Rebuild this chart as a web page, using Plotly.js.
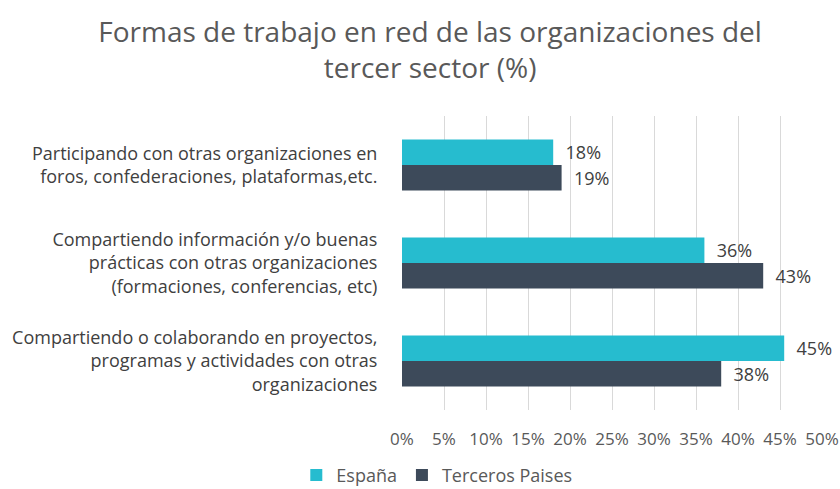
<!DOCTYPE html>
<html><head><meta charset="utf-8">
<script src="https://cdn.plot.ly/plotly-3.0.1.min.js"></script>
<style>body{margin:0;padding:0;background:#fff}#chart{width:840px;height:489px}</style>
</head><body><div id="chart"></div>
<script>
var categories = [
  "Participando con otras organizaciones en<br>foros, confederaciones, plataformas,etc.",
  "Compartiendo información y/o buenas<br>prácticas con otras organizaciones<br>(formaciones, conferencias, etc)",
  "Compartiendo o colaborando en proyectos,<br>programas y actividades con otras<br>organizaciones"
];
var espana = [18, 36, 45.5];
var terceros = [19, 43, 38];
var espanaLabels = ["18%", "36%", "45%"];
var tercerosLabels = ["19%", "43%", "38%"];
var tickVals = [0,5,10,15,20,25,30,35,40,45,50];
var tickText = ["0%","5%","10%","15%","20%","25%","30%","35%","40%","45%","50%"];

var font = "'Open Sans', Lato, sans-serif";
var traces = [
  {type:'bar', orientation:'h', name:'España', y:categories, x:espana,
   marker:{color:'#26BCCF'}, text:espanaLabels, texttemplate:'  %{text}', textposition:'outside',
   textfont:{size:18,color:'#404040',family:font}, cliponaxis:false, hoverinfo:'none'},
  {type:'bar', orientation:'h', name:'Terceros Paises', y:categories, x:terceros,
   marker:{color:'#3D4A5A'}, text:tercerosLabels, texttemplate:'  %{text}', textposition:'outside',
   textfont:{size:18,color:'#404040',family:font}, cliponaxis:false, hoverinfo:'none'}
];
var layout = {
  width:840, height:489,
  margin:{l:402, r:18, t:116, b:79, autoexpand:false},
  paper_bgcolor:'#fff', plot_bgcolor:'#fff',
  font:{family:font, color:'#595959'},
  title:{text:"Formas de trabajo en red de las organizaciones del<br>tercer sector (%)",
         font:{size:28,color:'#595959',family:font}, x:0.512, xanchor:'center', yref:'container', y:0.915, yanchor:'middle'},
  barmode:'group', bargap:0.48, bargroupgap:0,
  xaxis:{range:[0,50], tickvals:tickVals, ticktext:tickText, showgrid:true, gridcolor:'#D9D9D9',
         gridwidth:1, zeroline:false, showline:false, tickfont:{size:17,color:'#595959'},
         ticks:'outside', ticklen:14, tickcolor:'rgba(0,0,0,0)', fixedrange:true},
  yaxis:{autorange:'reversed', tickfont:{size:18,color:'#404040'}, ticks:'outside', ticklen:20, tickcolor:'rgba(0,0,0,0)', showline:false, fixedrange:true},
  showlegend:true,
  legend:{orientation:'h', xref:'container', yref:'paper', x:0.52, xanchor:'center', y:-0.222, yanchor:'middle', font:{size:18,color:'#595959'}, traceorder:'normal', itemwidth:30}
};
Plotly.newPlot('chart', traces, layout, {displayModeBar:false, staticPlot:true});
</script></body></html>
